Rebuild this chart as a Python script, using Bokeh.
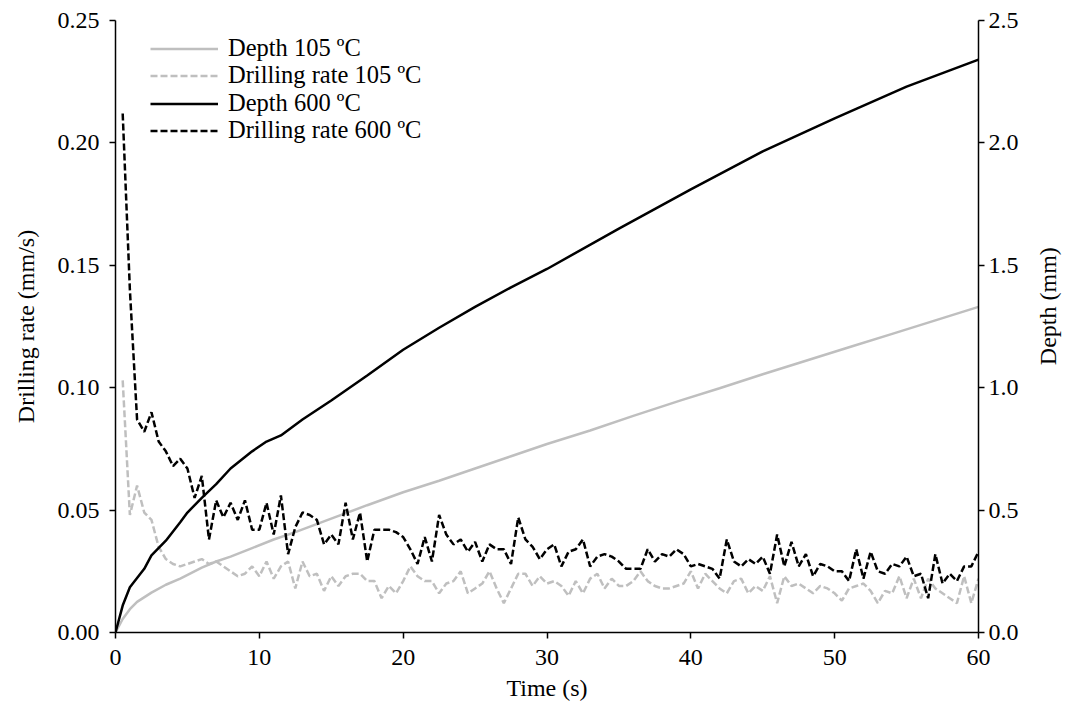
import math
from bokeh.plotting import figure
from bokeh.layouts import row
from bokeh.models import (Range1d, LinearAxis, Legend, LegendItem, Label,
                          NumeralTickFormatter, FixedTicker, ColumnDataSource)
from bokeh.embed import file_html
from bokeh.resources import INLINE

# ---------------- data ----------------
rate_time = [0.5, 1.0, 1.5, 2.0, 2.5, 3.0, 3.5, 4.0, 4.5, 5.0,
             5.5, 6.0, 6.5, 7.0, 7.5, 8.0, 8.5, 9.0, 9.5, 10.0,
             10.5, 11.0, 11.5, 12.0, 12.5, 13.0, 13.5, 14.0, 14.5, 15.0,
             15.5, 16.0, 16.5, 17.0, 17.5, 18.0, 18.5, 19.0, 19.5, 20.0,
             20.5, 21.0, 21.5, 22.0, 22.5, 23.0, 23.5, 24.0, 24.5, 25.0,
             25.5, 26.0, 26.5, 27.0, 27.5, 28.0, 28.5, 29.0, 29.5, 30.0,
             30.5, 31.0, 31.5, 32.0, 32.5, 33.0, 33.5, 34.0, 34.5, 35.0,
             35.5, 36.0, 36.5, 37.0, 37.5, 38.0, 38.5, 39.0, 39.5, 40.0,
             40.5, 41.0, 41.5, 42.0, 42.5, 43.0, 43.5, 44.0, 44.5, 45.0,
             45.5, 46.0, 46.5, 47.0, 47.5, 48.0, 48.5, 49.0, 49.5, 50.0,
             50.5, 51.0, 51.5, 52.0, 52.5, 53.0, 53.5, 54.0, 54.5, 55.0,
             55.5, 56.0, 56.5, 57.0, 57.5, 58.0, 58.5, 59.0, 59.5, 60.0]

rate_600 = [0.212, 0.140, 0.087, 0.082, 0.090, 0.078, 0.074, 0.068, 0.071, 0.067,
            0.055, 0.064, 0.038, 0.054, 0.047, 0.053, 0.046, 0.054, 0.042, 0.042,
            0.053, 0.040, 0.056, 0.032, 0.043, 0.049, 0.048, 0.046, 0.036, 0.040,
            0.036, 0.053, 0.038, 0.049, 0.029, 0.042, 0.042, 0.042, 0.041, 0.039,
            0.034, 0.028, 0.039, 0.029, 0.048, 0.040, 0.036, 0.038, 0.033, 0.037,
            0.029, 0.036, 0.034, 0.034, 0.028, 0.047, 0.038, 0.035, 0.030, 0.034,
            0.036, 0.027, 0.033, 0.034, 0.038, 0.027, 0.031, 0.032, 0.031, 0.029,
            0.026, 0.026, 0.026, 0.034, 0.029, 0.032, 0.031, 0.034, 0.032, 0.027,
            0.028, 0.027, 0.026, 0.022, 0.038, 0.029, 0.027, 0.030, 0.028, 0.031,
            0.024, 0.040, 0.027, 0.037, 0.027, 0.032, 0.023, 0.028, 0.027, 0.025,
            0.025, 0.021, 0.034, 0.022, 0.033, 0.025, 0.024, 0.028, 0.027, 0.031,
            0.023, 0.024, 0.014, 0.032, 0.020, 0.024, 0.021, 0.027, 0.027, 0.033]

rate_105 = [0.103, 0.048, 0.060, 0.049, 0.046, 0.035, 0.030, 0.028, 0.027, 0.028,
            0.029, 0.030, 0.028, 0.029, 0.027, 0.025, 0.023, 0.024, 0.027, 0.023,
            0.029, 0.022, 0.027, 0.029, 0.018, 0.029, 0.023, 0.024, 0.017, 0.023,
            0.019, 0.023, 0.024, 0.024, 0.021, 0.021, 0.014, 0.019, 0.016, 0.021,
            0.027, 0.023, 0.021, 0.021, 0.016, 0.020, 0.021, 0.025, 0.016, 0.018,
            0.020, 0.025, 0.018, 0.012, 0.018, 0.024, 0.024, 0.019, 0.023, 0.020,
            0.021, 0.019, 0.015, 0.021, 0.016, 0.022, 0.024, 0.018, 0.022, 0.019,
            0.019, 0.021, 0.025, 0.021, 0.019, 0.018, 0.018, 0.019, 0.020, 0.025,
            0.018, 0.024, 0.021, 0.018, 0.016, 0.021, 0.022, 0.016, 0.019, 0.017,
            0.023, 0.012, 0.023, 0.019, 0.020, 0.018, 0.016, 0.019, 0.018, 0.016,
            0.013, 0.018, 0.019, 0.020, 0.017, 0.012, 0.017, 0.016, 0.023, 0.014,
            0.022, 0.014, 0.022, 0.018, 0.016, 0.014, 0.012, 0.023, 0.012, 0.022]

depth_600_time = [0, 0.5, 1, 2, 2.5, 3.5, 4.5, 5, 6, 7, 8, 9.5, 10.5, 11.5, 13,
                  15, 17.5, 20, 22.5, 25, 27.5, 30, 35, 40, 45, 50, 55, 60]
depth_600 = [0, 0.11, 0.185, 0.26, 0.315, 0.375, 0.45, 0.49, 0.55, 0.606, 0.67,
             0.74, 0.78, 0.805, 0.87, 0.948, 1.05, 1.155, 1.245, 1.33, 1.41,
             1.485, 1.65, 1.81, 1.965, 2.10, 2.23, 2.34]

depth_105_time = [0, 0.5, 1, 1.5, 2.5, 3.5, 4.5, 6, 7, 8, 9.5, 11, 12.5, 15,
                  17.5, 20, 22.5, 25, 27.5, 30, 33, 36, 39.3, 42, 45, 48, 51,
                  54, 57, 60]
depth_105 = [0, 0.055, 0.095, 0.125, 0.163, 0.195, 0.22, 0.265, 0.29, 0.31,
             0.345, 0.38, 0.41, 0.465, 0.52, 0.573, 0.62, 0.67, 0.72, 0.77,
             0.825, 0.885, 0.948, 0.998, 1.055, 1.11, 1.165, 1.22, 1.275, 1.33]

legend_labels = ["Depth 105 ºC", "Drilling rate 105 ºC",
                 "Depth 600 ºC", "Drilling rate 600 ºC"]

x_ticks = [0, 10, 20, 30, 40, 50, 60]
rate_ticks = [0.0, 0.05, 0.10, 0.15, 0.20, 0.25]
depth_ticks = [0.0, 0.5, 1.0, 1.5, 2.0, 2.5]

# ---------------- styling ----------------
FONT = "Liberation Serif"
FS = "24px"
LEG_FS = "24.5px"
GRAY = "#BFBFBF"
BLACK = "#000000"
H = 707

p = figure(width=1022, height=H,
           x_range=Range1d(0, 60), y_range=Range1d(0, 0.25),
           output_backend="svg", toolbar_location=None,
           min_border_left=115, min_border_right=44,
           min_border_top=20, min_border_bottom=75)
p.extra_y_ranges = {"depth": Range1d(0, 2.5)}
p.outline_line_color = None
p.xgrid.visible = False
p.ygrid.visible = False
p.background_fill_color = "white"
p.border_fill_color = "white"


def style_axis(ax):
    ax.axis_line_color = BLACK
    ax.axis_line_width = 1.5
    ax.major_tick_line_color = BLACK
    ax.major_tick_line_width = 1.5
    ax.major_tick_in = 0
    ax.major_tick_out = 6
    ax.minor_tick_line_color = None
    ax.major_label_text_font = FONT
    ax.major_label_text_font_size = FS
    ax.major_label_text_color = BLACK
    ax.axis_label_text_font = FONT
    ax.axis_label_text_font_size = FS
    ax.axis_label_text_font_style = "normal"
    ax.axis_label_text_color = BLACK


xa = p.xaxis[0]
style_axis(xa)
xa.ticker = FixedTicker(ticks=x_ticks)
xa.axis_label = "Time (s)"
xa.major_label_standoff = 11
xa.axis_label_standoff = 7

ya = p.yaxis[0]
style_axis(ya)
ya.ticker = FixedTicker(ticks=rate_ticks)
ya.formatter = NumeralTickFormatter(format="0.00")
ya.axis_label = "Drilling rate (mm/s)"
ya.major_label_standoff = 10
ya.axis_label_standoff = 16

ra = LinearAxis(y_range_name="depth")
style_axis(ra)
ra.ticker = FixedTicker(ticks=depth_ticks)
ra.formatter = NumeralTickFormatter(format="0.0")
ra.major_label_standoff = 4
p.add_layout(ra, "right")

src_rate = ColumnDataSource(dict(t=rate_time, r600=rate_600, r105=rate_105))
src_d600 = ColumnDataSource(dict(t=depth_600_time, d=depth_600))
src_d105 = ColumnDataSource(dict(t=depth_105_time, d=depth_105))

l_d105 = p.line("t", "d", source=src_d105, y_range_name="depth",
                line_color=GRAY, line_width=2.5)
l_r105 = p.line("t", "r105", source=src_rate,
                line_color=GRAY, line_width=2.5, line_dash="7 3")
l_d600 = p.line("t", "d", source=src_d600, y_range_name="depth",
                line_color=BLACK, line_width=2.5)
l_r600 = p.line("t", "r600", source=src_rate,
                line_color=BLACK, line_width=2.5, line_dash="7 3")

# one single-row legend per entry, so the row pitch matches the reference
row_bottoms = [570, 543, 515, 488]
for lab, rend, vy in zip(legend_labels, [l_d105, l_r105, l_d600, l_r600],
                         row_bottoms):
    lg = Legend(items=[LegendItem(label=lab, renderers=[rend])],
                location=(35, vy))
    lg.border_line_color = None
    lg.background_fill_alpha = 0
    lg.padding = 0
    lg.margin = 0
    lg.spacing = 0
    lg.glyph_width = 68
    lg.glyph_height = 27
    lg.label_height = 27
    lg.label_standoff = 10
    lg.label_text_font = FONT
    lg.label_text_font_size = LEG_FS
    lg.label_text_color = BLACK
    p.add_layout(lg)

# narrow companion panel holding the right-hand axis title (bottom-to-top)
W2 = 40
p2 = figure(width=W2, height=H, x_range=Range1d(0, W2), y_range=Range1d(0, H),
            output_backend="svg", toolbar_location=None,
            x_axis_type=None, y_axis_type=None, min_border=0)
p2.outline_line_color = None
p2.xgrid.visible = False
p2.ygrid.visible = False
p2.background_fill_color = "white"
p2.border_fill_color = "white"
p2.add_layout(Label(x=25, y=H - 330, text="Depth (mm)", angle=math.pi / 2,
                    text_align="center", text_baseline="middle",
                    text_font=FONT, text_font_size=FS, text_color=BLACK))

layout = row(p, p2, spacing=0)

open("out.html", "w").write(file_html(layout, INLINE))
